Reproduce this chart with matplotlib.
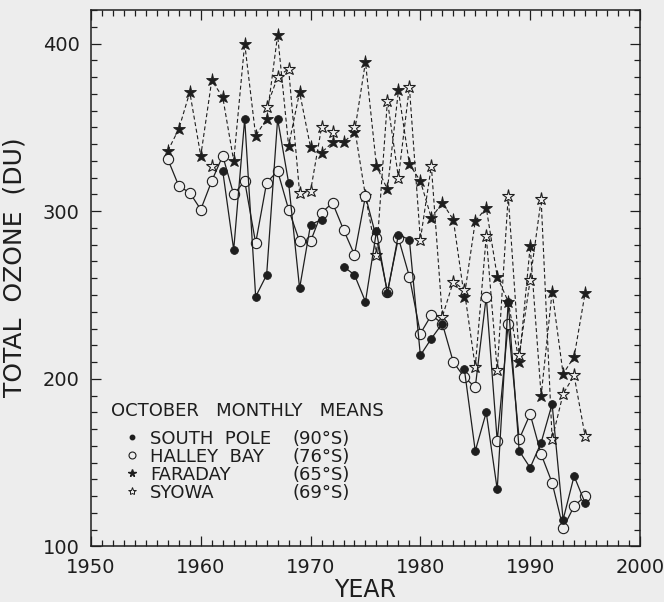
import numpy as np
import matplotlib
matplotlib.use("Agg")
import matplotlib.pyplot as plt
from matplotlib.lines import Line2D
from matplotlib.ticker import MultipleLocator

# October monthly mean total ozone (DU), 1957-1995; None = no value
years = list(range(1957, 1996))

south_pole = [None, None, None, None, None, 324, 277, 355, 249, 262,
              355, 317, 254, 292, 295, None, 267, 262, 246, 288,
              251, 286, 283, 214, 224, 233, None, 206, 157, 180,
              134, 246, 157, 147, 162, 185, 116, 142, 126]

halley_bay = [331, 315, 311, 301, 318, 333, 310, 318, 281, 317,
              324, 301, 282, 282, 299, 305, 289, 274, 309, 284,
              252, 284, 261, 227, 238, 233, 210, 201, 195, 249,
              163, 233, 164, 179, 155, 138, 111, 124, 130]

faraday = [336, 349, 371, 333, 378, 368, 330, 400, 345, 355,
           405, 339, 371, 338, 335, 341, 341, 347, 389, 327,
           313, 372, 328, 318, 296, 305, 295, 249, 294, 302,
           261, 246, 210, 279, 190, 252, 203, 213, 251]

syowa = [None, None, None, None, 327, None, None, None, None, 362,
         380, 385, 311, 312, 350, 347, None, 350, 309, 274,
         366, 320, 374, 283, 327, 237, 258, 253, 207, 285,
         205, 309, 214, 259, 307, 164, 191, 202, 166]

station_names = ["SOUTH  POLE", "HALLEY  BAY", "FARADAY", "SYOWA"]
station_lats = ["(90°S)", "(76°S)", "(65°S)", "(69°S)"]
legend_title = "OCTOBER   MONTHLY   MEANS"

bg = "#ededed"
ink = "#1e1e1e"


def arr(v):
    return np.array([np.nan if x is None else x for x in v], dtype=float)


fig = plt.figure(figsize=(6.64, 6.02), dpi=100, facecolor=bg)
ax = fig.add_axes([0.137, 0.0922, 0.8268, 0.8912], facecolor=bg)

dash = (0, (3.6, 2.4))
x = np.array(years)

ax.plot(x, arr(faraday), ls=dash, lw=0.8, color=ink, marker="*", ms=9.5,
        mfc=ink, mec=ink, mew=0.6, zorder=3)
ax.plot(x, arr(syowa), ls=dash, lw=0.8, color=ink, marker="*", ms=9.5,
        mfc=bg, mec=ink, mew=0.8, zorder=3)
ax.plot(x, arr(halley_bay), ls="-", lw=0.9, color=ink, marker="o", ms=7.4,
        mfc=bg, mec=ink, mew=0.8, zorder=4)
ax.plot(x, arr(south_pole), ls="-", lw=0.9, color=ink, marker="o", ms=5.6,
        mfc=ink, mec=ink, mew=0.6, zorder=5)

ax.set_xlim(1950, 2000)
ax.set_ylim(100, 420)
ax.xaxis.set_major_locator(MultipleLocator(10))
ax.xaxis.set_minor_locator(MultipleLocator(1))
ax.yaxis.set_major_locator(MultipleLocator(100))
ax.yaxis.set_minor_locator(MultipleLocator(10))
ax.tick_params(which="both", direction="in", top=True, right=True,
               color=ink, width=0.9)
ax.tick_params(which="major", length=7, labelsize=14, labelcolor=ink, pad=8)
ax.tick_params(which="minor", length=4.5)
for s in ax.spines.values():
    s.set_linewidth(1.1)
    s.set_color(ink)

ax.set_xlabel("YEAR", fontsize=17, color=ink, labelpad=1)
ax.set_ylabel("TOTAL  OZONE  (DU)", fontsize=18, color=ink)
ax.yaxis.set_label_coords(-0.117, 0.52)

# legend
ax.text(0.037, 0.253, legend_title, transform=ax.transAxes, fontsize=13,
        color=ink, ha="left", va="center")

handles = [
    Line2D([], [], ls="none", marker="o", ms=3.2, mfc=ink, mec=ink),
    Line2D([], [], ls="none", marker="o", ms=5, mfc=bg, mec=ink, mew=0.8),
    Line2D([], [], ls="none", marker="*", ms=5.5, mfc=ink, mec=ink),
    Line2D([], [], ls="none", marker="*", ms=6, mfc=bg, mec=ink, mew=0.7),
]
common = dict(loc="upper left", frameon=False, fontsize=13,
              labelspacing=0.0, borderpad=0, borderaxespad=0, labelcolor=ink)
leg1 = ax.legend(handles, station_names, bbox_to_anchor=(0.062, 0.218),
                 handlelength=0.8, handletextpad=0.6, **common)
ax.add_artist(leg1)
blank = [Line2D([], [], ls="none", marker="none") for _ in station_lats]
ax.legend(blank, station_lats, bbox_to_anchor=(0.368, 0.218),
          handlelength=0, handletextpad=0, **common)

fig.savefig("out.png", dpi=100, facecolor=bg)
